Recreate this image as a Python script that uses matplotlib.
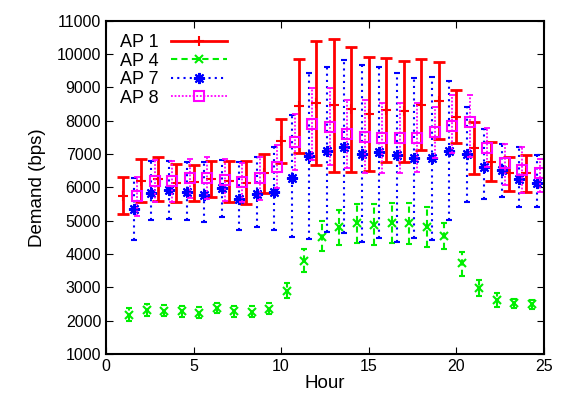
import numpy as np
import matplotlib
matplotlib.use('Agg')
import matplotlib.pyplot as plt
from matplotlib.lines import Line2D

plt.rcParams['font.family'] = ['Liberation Sans', 'DejaVu Sans']

hours = np.arange(1, 25)

# AP 1
ap1_mean = [5750, 6200, 6250, 6140, 6170, 6250, 6190, 6140, 6420, 7400, 8440, 8540,
            8470, 8340, 8190, 8320, 8300, 8470, 8590, 8120, 7190, 6770, 6420, 6420]
ap1_low = [5200, 5560, 5600, 5560, 5600, 5720, 5570, 5500, 5840, 6740, 7040, 6670,
           6470, 6470, 6500, 6760, 6770, 7120, 7440, 7340, 6390, 6190, 5890, 5850]
ap1_high = [6300, 6850, 6920, 6710, 6680, 6780, 6800, 6800, 7000, 8050, 9850, 10400,
            10460, 10200, 9900, 9880, 9800, 9840, 9750, 8920, 7950, 7370, 6920, 6980]

# AP 4
ap4_mean = [2180, 2320, 2300, 2280, 2240, 2370, 2280, 2270, 2360, 2890, 3790, 4520,
            4800, 4920, 4870, 4920, 4920, 4820, 4540, 3720, 2990, 2620, 2520, 2490]
ap4_low = [1990, 2150, 2140, 2120, 2090, 2220, 2120, 2110, 2200, 2670, 3450, 4100,
           4270, 4340, 4270, 4340, 4300, 4220, 4150, 3350, 2740, 2420, 2380, 2340]
ap4_high = [2380, 2500, 2470, 2450, 2400, 2530, 2440, 2430, 2530, 3140, 4140, 4990,
            5320, 5500, 5490, 5540, 5540, 5400, 4920, 4070, 3220, 2820, 2660, 2630]

# AP 7
ap7_mean = [5340, 5840, 5910, 5860, 5780, 5970, 5660, 5810, 5870, 6270, 6940, 7100,
            7200, 7000, 7060, 6960, 6870, 6870, 7090, 6990, 6620, 6520, 6240, 6120]
ap7_low = [4420, 5030, 5040, 5020, 4970, 5100, 4720, 4800, 4730, 4500, 4440, 4660,
           4620, 4370, 4470, 4370, 4470, 4420, 5020, 5570, 5640, 5720, 5400, 5400]
ap7_high = [6270, 6800, 6790, 6750, 6750, 6820, 6770, 6920, 7220, 8170, 9420, 9600,
            9820, 9670, 9620, 9420, 9270, 9320, 9190, 8420, 7740, 7300, 7200, 6970]

# AP 8
ap8_mean = [5750, 6200, 6200, 6290, 6270, 6220, 6150, 6270, 6620, 7350, 7900, 7820,
            7600, 7500, 7470, 7470, 7470, 7650, 7850, 7950, 7190, 6720, 6520, 6440]
ap8_low = [5140, 5570, 5570, 5670, 5650, 5600, 5570, 5620, 5970, 6520, 6820, 6670,
           6570, 6420, 6420, 6420, 6450, 6870, 7020, 6920, 6620, 6070, 5820, 5850]
ap8_high = [6320, 6820, 6800, 6850, 6900, 6850, 6720, 6920, 7270, 8200, 8970, 8970,
            8620, 8620, 8520, 8520, 8520, 8420, 8770, 8770, 7770, 7300, 7220, 6840]

series = [
    # label, offset, mean, low, high, color, linestyle, marker, ms, lw, capsize
    ('AP 1', 0.0, ap1_mean, ap1_low, ap1_high, '#ff0000', '-', '+', 7, 2.0, 4.5),
    ('AP 4', 0.33, ap4_mean, ap4_low, ap4_high, '#00ee00', (0, (3, 2)), 'x', 6, 1.5, 2.5),
    ('AP 7', 0.6, ap7_mean, ap7_low, ap7_high, '#0000ff', (0, (1, 2)), (8, 2, 0), 8, 1.5, 2.5),
    ('AP 8', 0.78, ap8_mean, ap8_low, ap8_high, '#ff00ff', (0, (1, 1)), 's', 7, 1.3, 2.5),
]

fig = plt.figure(figsize=(5.68, 4.01), dpi=100)
ax = fig.add_axes([0.1866, 0.1172, 0.7704, 0.8312])

handles = []
for label, off, mean, low, high, color, ls, marker, ms, lw, cs in series:
    mean = np.array(mean)
    err = [mean - np.array(low), np.array(high) - mean]
    eb = ax.errorbar(hours + off, mean, yerr=err, fmt='none', ecolor=color,
                     elinewidth=lw, capsize=cs, capthick=lw)
    for bar in eb[2]:
        bar.set_linestyle(ls)
    ax.plot(hours + off, mean, linestyle='none', marker=marker, ms=ms,
            mec=color, mfc='none', mew=1.5)
    handles.append(Line2D([], [], color=color, linestyle=ls, lw=lw, marker=marker,
                          ms=ms, mec=color, mfc='none', mew=1.5))

ax.set_xlim(0, 25)
ax.set_ylim(1000, 11000)
ax.set_xticks(range(0, 26, 5))
ax.set_yticks(range(1000, 11001, 1000))
ax.tick_params(direction='in', top=True, right=True, labelsize=11.5, length=5)
for s in ax.spines.values():
    s.set_linewidth(1.5)
ax.set_xlabel('Hour', fontsize=13.5, labelpad=1)
ax.set_ylabel('Demand (bps)', fontsize=13.5, labelpad=8)

ax.legend(handles, [s[0] for s in series], loc='upper left', frameon=False,
          markerfirst=False, fontsize=13, handlelength=3.1, labelspacing=0.08,
          borderaxespad=0.35, handletextpad=0.7, numpoints=1)

fig.savefig('out.png', dpi=100)
